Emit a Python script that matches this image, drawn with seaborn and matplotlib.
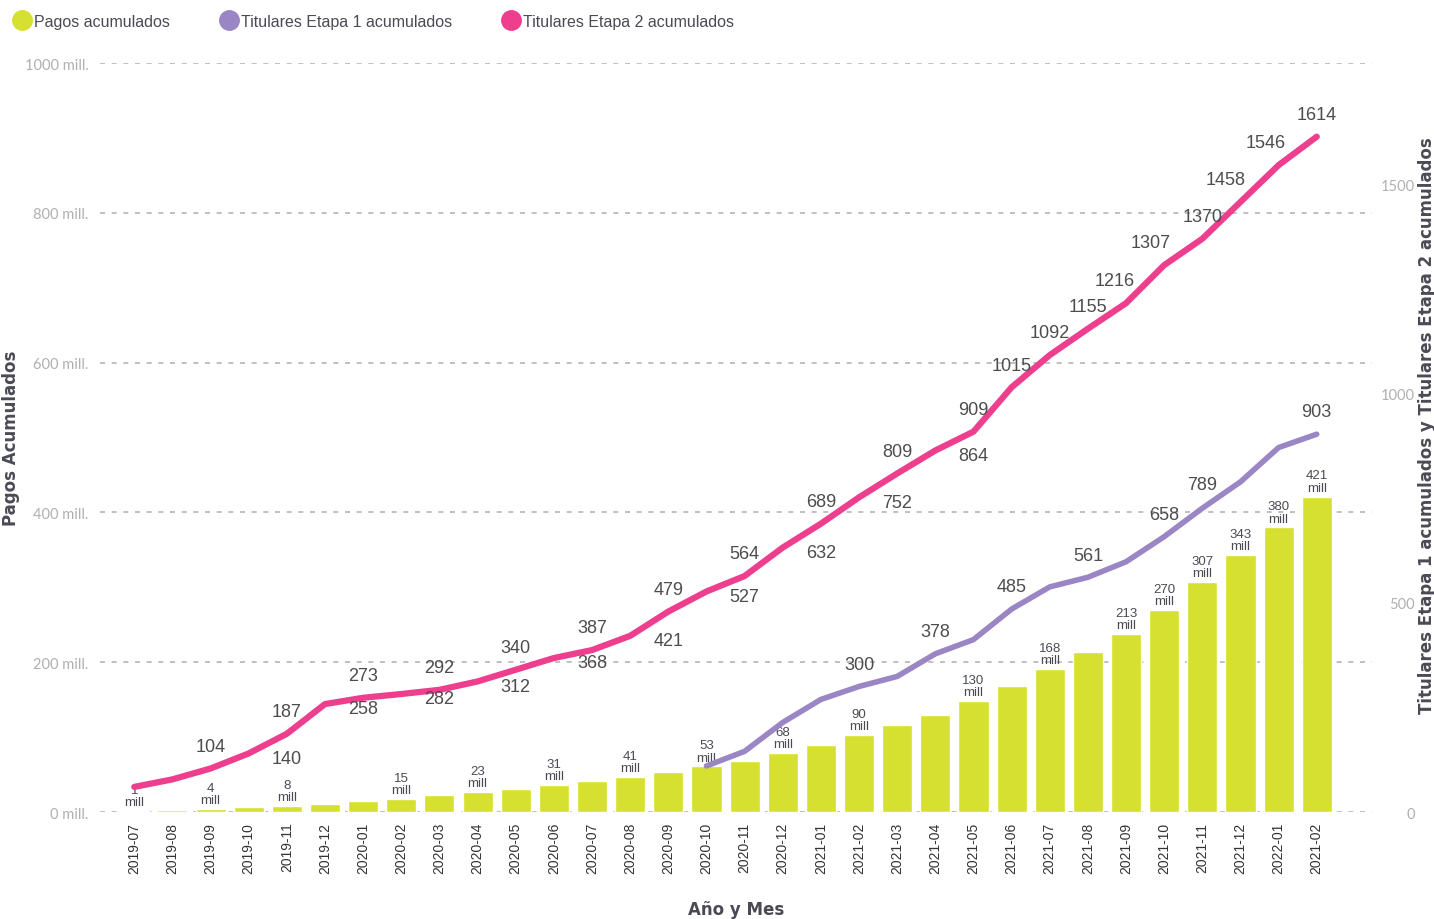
import matplotlib
matplotlib.use("Agg")
import matplotlib.pyplot as plt
from matplotlib import font_manager
from matplotlib.lines import Line2D
import numpy as np
import pandas as pd
import seaborn as sns

# datos
months = ["2019-07", "2019-08", "2019-09", "2019-10", "2019-11", "2019-12",
          "2020-01", "2020-02", "2020-03", "2020-04", "2020-05", "2020-06",
          "2020-07", "2020-08", "2020-09", "2020-10", "2020-11", "2020-12",
          "2021-01", "2021-02", "2021-03", "2021-04", "2021-05", "2021-06",
          "2021-07", "2021-08", "2021-09", "2021-10", "2021-11", "2021-12",
          "2022-01", "2021-02"]
pagos = [1, 3, 4, 7, 8, 11, 15, 17, 23, 27, 31, 36, 41, 47, 53, 61,
         68, 79, 90, 103, 116, 130, 148, 168, 191, 213, 238, 270, 307, 343, 380, 421]
etapa2 = [60, 78, 104, 140, 187, 258, 273, 282, 292, 312, 340, 368, 387, 421, 479, 527,
          564, 632, 689, 752, 809, 864, 909, 1015, 1092, 1155, 1216, 1307, 1370, 1458, 1546, 1614]
etapa1 = [np.nan] * 15 + [110, 145, 214, 269, 300, 324, 378, 412, 485, 538,
                          561, 598, 658, 726, 789, 871, 903]

# etiquetas visibles en el original
pagos_labels = [0, 2, 4, 6, 8, 10, 12, 14, 16, 18, 21, 23, 25, 27, 28, 29, 30, 31]
etapa2_labels = list(range(2, 32))
etapa1_labels = [19, 21, 23, 25, 27, 29, 31]

C_BAR = "#d6e030"
C_E1 = "#9a86c4"
C_E2 = "#ee3e8e"
C_TXT = "#4a4a55"

sns.set_theme(style="white")
installed = {f.name for f in font_manager.fontManager.ttflist}
narrow = "Liberation Sans Narrow" if "Liberation Sans Narrow" in installed else "Liberation Sans"
plt.rcParams["font.family"] = [narrow, "DejaVu Sans"]

df = pd.DataFrame({"pos": range(len(months)), "mes": months, "pagos": pagos,
                   "etapa1": etapa1, "etapa2": etapa2})

fig = plt.figure(figsize=(14.34, 9.2), dpi=100)
ax = fig.add_axes([0.0697, 0.1163, 0.8871, 0.8141])

sns.barplot(data=df, x="pos", y="pagos", color=C_BAR, width=0.79, ax=ax,
            saturation=1, zorder=2)
ax.set_ylim(0, 1000)
ax.set_yticks(range(0, 1001, 200))
ax.set_yticklabels([f"{v} mill." for v in range(0, 1001, 200)],
                   family="Lato", fontsize=10.5, color="#b0b0b0")
ax.grid(axis="y", linestyle=(0, (3, 4)), color="#b5b5b5", lw=1.2, zorder=0)
ax.grid(axis="x", visible=False)
ax.set_xticks(df["pos"])
ax.set_xticklabels(months, rotation=90, fontsize=10, color="#333333")
ax.tick_params(axis="both", length=0)
ax.tick_params(axis="y", pad=8)
ax.tick_params(axis="x", pad=7)
for s in ax.spines.values():
    s.set_visible(False)

ax.set_xlabel("Año y Mes", family="DejaVu Sans", fontsize=12, fontweight="bold", color=C_TXT)
ax.xaxis.set_label_coords(0.5, -0.1175)
ax.set_ylabel("Pagos Acumulados", family="DejaVu Sans", fontsize=12, fontweight="bold", color=C_TXT)
ax.yaxis.set_label_coords(-0.063, 0.5)

# etiquetas de barras (desplazadas como en el original)
for k in pagos_labels:
    p = k + 1 if 6 <= k <= 25 else k
    ax.annotate(f"{pagos[k]}\nmill", (p, pagos[p]), xytext=(0, 2), textcoords="offset points",
                ha="center", va="bottom", fontsize=9.5, color=C_TXT, linespacing=1.05,
                zorder=3)

ax2 = ax.twinx()
sns.lineplot(data=df, x="pos", y="etapa1", color=C_E1, lw=4, ax=ax2,
             solid_capstyle="round")
sns.lineplot(data=df, x="pos", y="etapa2", color=C_E2, lw=4.5, ax=ax2,
             solid_capstyle="round")
ax2.set_ylim(0, 1790)
ax2.set_yticks([0, 500, 1000, 1500])
ax2.set_yticklabels(["0", "500", "1000", "1500"], family="Lato", fontsize=10.5,
                    color="#b0b0b0", ha="right")
ax2.tick_params(axis="y", length=0, pad=31)
for s in ax2.spines.values():
    s.set_visible(False)
ax2.set_ylabel("Titulares Etapa 1 acumulados y Titulares Etapa 2 acumulados",
               family="DejaVu Sans", fontsize=12, fontweight="bold", color=C_TXT)
ax2.yaxis.set_label_coords(1.036, 0.517)
ax.set_xlim(-0.9, 32.45)
ax2.set_xlim(-0.9, 32.45)
ax2.set_xlabel("")

nudge2 = {26: -8, 27: -10, 29: -11, 30: -9}
for i in etapa2_labels:
    if 3 <= i <= 21 and i % 2 == 1:
        pos, dx, dy = i + 1, 0, -3.5
    else:
        pos, dx, dy = i, nudge2.get(i, 0), 16
    ax2.annotate(str(etapa2[i]), (pos, etapa2[i]), xytext=(dx, dy), textcoords="offset points",
                 ha="center", va="center", fontsize=13, color="#4d4d4d")

for i in etapa1_labels:
    if i == 29:
        pos, dy = i - 1, -2
    else:
        pos, dy = i, 16
    ax2.annotate(str(int(etapa1[i])), (pos, etapa1[i]), xytext=(0, dy), textcoords="offset points",
                 ha="center", va="center", fontsize=13, color="#4d4d4d")

handles = [Line2D([], [], marker="o", ls="", markersize=14, color=c) for c in (C_BAR, C_E1, C_E2)]
fig.legend(handles, ["Pagos acumulados", "Titulares Etapa 1 acumulados", "Titulares Etapa 2 acumulados"],
           loc="center left", bbox_to_anchor=(0.002, 0.976), ncol=3, frameon=False,
           handlelength=1, handletextpad=0.25, columnspacing=3.2, borderpad=0.2,
           fontsize=11.5, labelcolor=C_TXT)

fig.savefig("out.png", dpi=100)
